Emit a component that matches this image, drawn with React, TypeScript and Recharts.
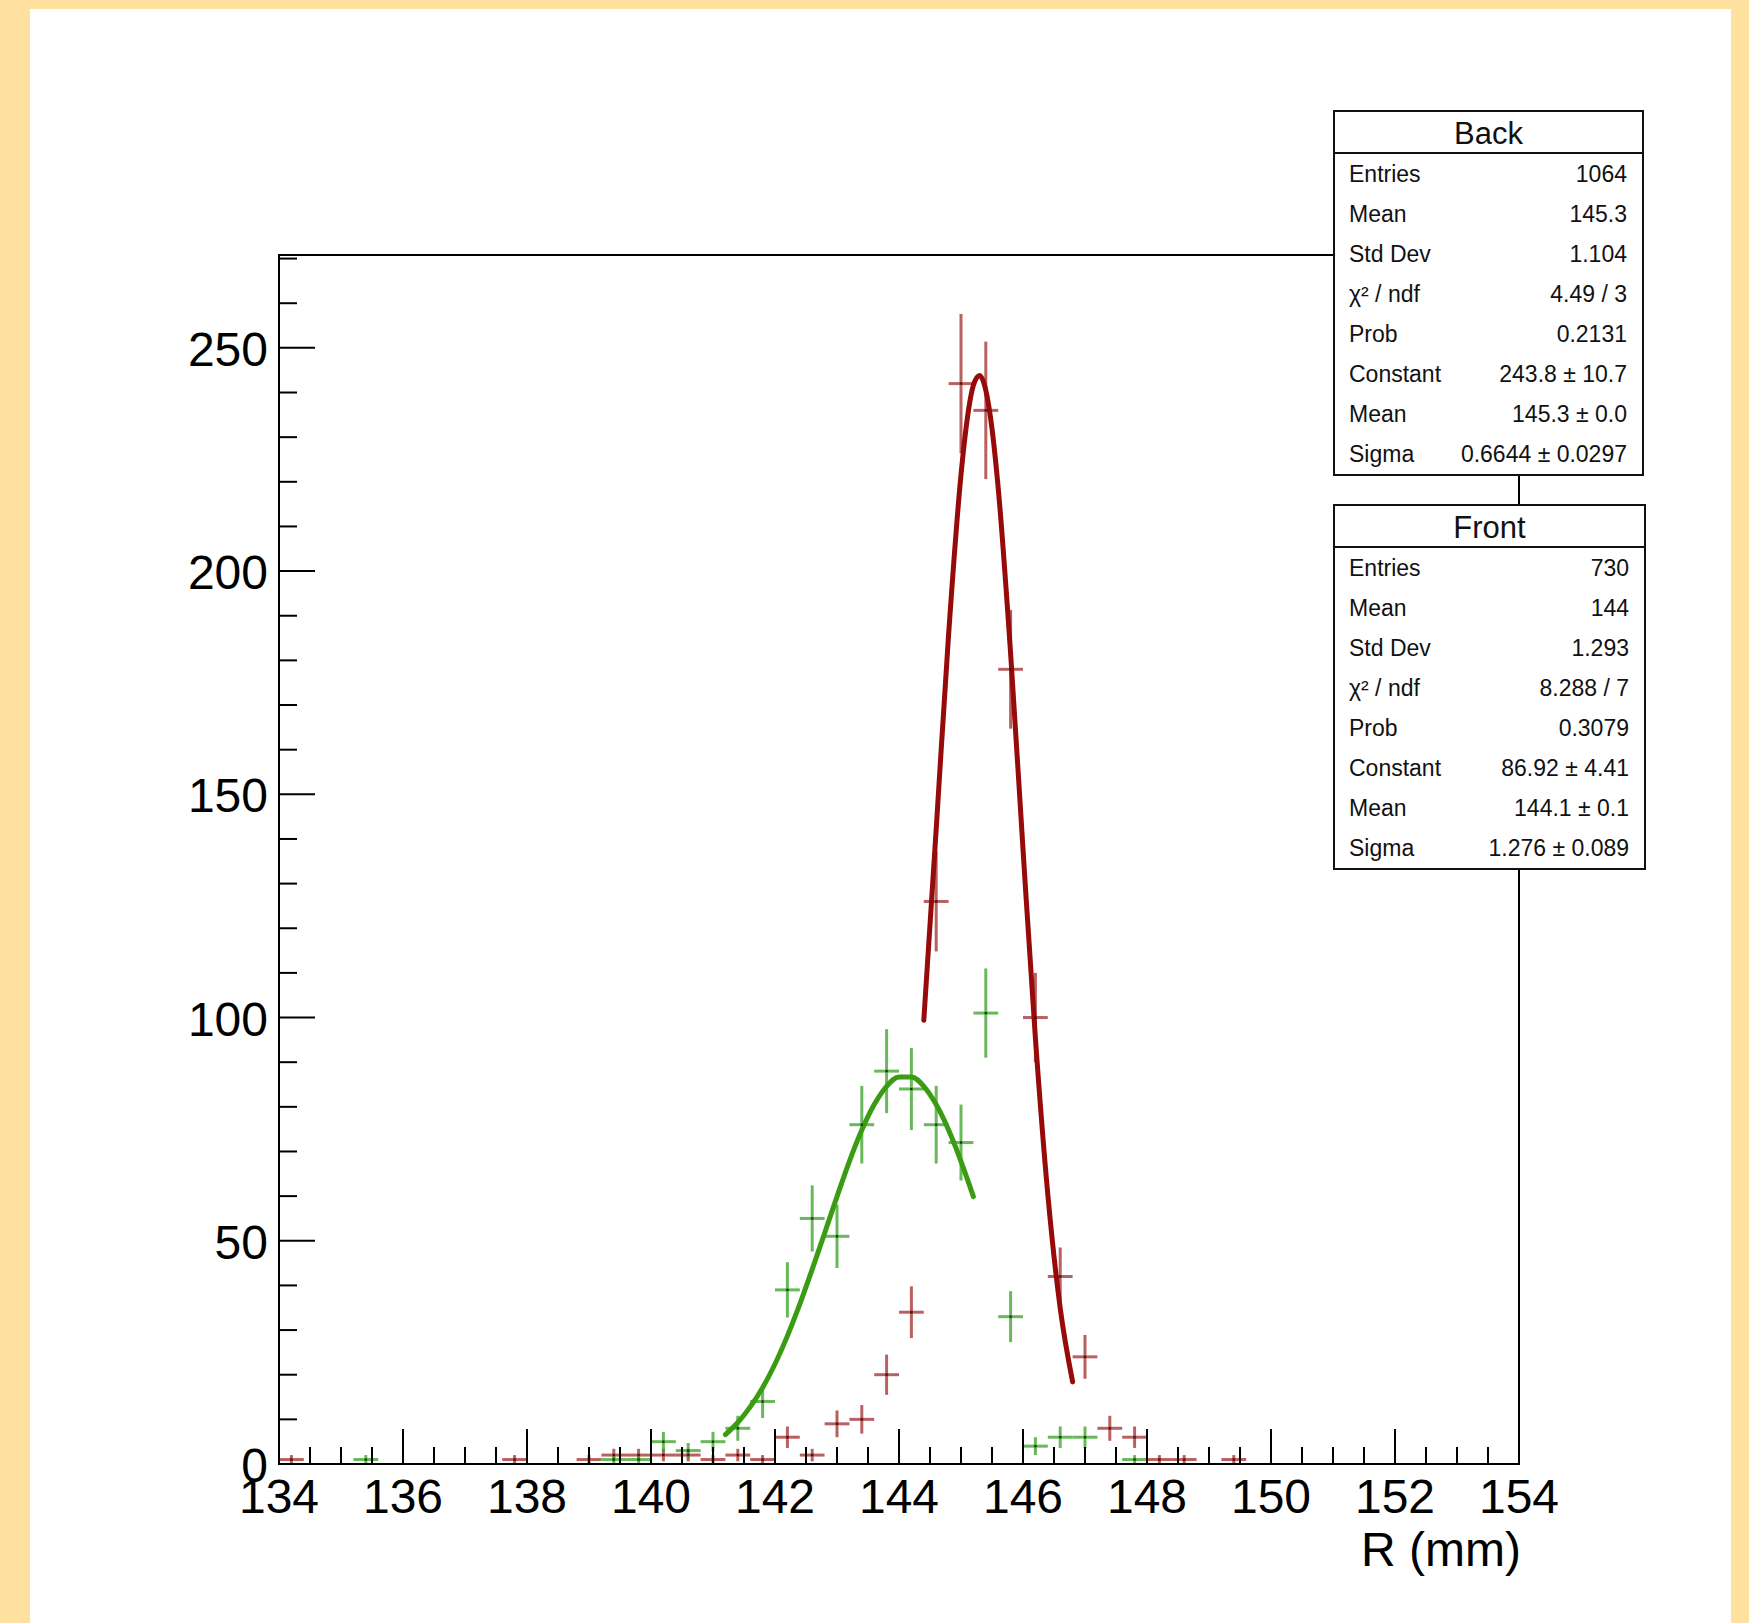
import React from 'react';
import { ComposedChart, Scatter, Line, XAxis, YAxis, ErrorBar, ReferenceArea } from 'recharts';

// ---- axis ticks ----
const xTicks = [134, 134.5, 135, 135.5, 136, 136.5, 137, 137.5, 138, 138.5, 139, 139.5, 140, 140.5, 141, 141.5, 142, 142.5, 143, 143.5, 144, 144.5, 145, 145.5, 146, 146.5, 147, 147.5, 148, 148.5, 149, 149.5, 150, 150.5, 151, 151.5, 152, 152.5, 153, 153.5, 154];
const xMajorTicks = [134, 136, 138, 140, 142, 144, 146, 148, 150, 152, 154];
const yTicks = [0, 10, 20, 30, 40, 50, 60, 70, 80, 90, 100, 110, 120, 130, 140, 150, 160, 170, 180, 190, 200, 210, 220, 230, 240, 250, 260, 270];
const yMajorTicks = [0, 50, 100, 150, 200, 250];
const xDomain = [134, 154];
const yDomain = [0, 270.8];
const xTitle = 'R (mm)';

// ---- histogram "Back" (non-empty bins) ----
const backBinCenters = [134.2, 137.8, 139.0, 139.4, 139.8, 140.2, 140.6, 141.0, 141.4, 141.8, 142.2, 142.6, 143.0, 143.4, 143.8, 144.2, 144.6, 145.0, 145.4, 145.8, 146.2, 146.6, 147.0, 147.4, 147.8, 148.2, 148.6, 149.4];
const backCounts = [1, 1, 1, 2, 2, 2, 2, 1, 2, 1, 6, 2, 9, 10, 20, 34, 126, 242, 236, 178, 100, 42, 24, 8, 6, 1, 1, 1];
const backErrors = [1, 1, 1, 1.4, 1.4, 1.4, 1.4, 1, 1.4, 1, 2.4, 1.4, 3, 3.2, 4.5, 5.8, 11.2, 15.6, 15.4, 13.3, 10, 6.5, 4.9, 2.8, 2.4, 1, 1, 1];

// ---- histogram "Front" (non-empty bins) ----
const frontBinCenters = [135.4, 139.4, 139.8, 140.2, 140.6, 141.0, 141.4, 141.8, 142.2, 142.6, 143.0, 143.4, 143.8, 144.2, 144.6, 145.0, 145.4, 145.8, 146.2, 146.6, 147.0, 147.8];
const frontCounts = [1, 1, 1, 5, 3, 5, 8, 14, 39, 55, 51, 76, 88, 84, 76, 72, 101, 33, 4, 6, 6, 1];
const frontErrors = [1, 1, 1, 2.2, 1.7, 2.2, 2.8, 3.7, 6.2, 7.4, 7.1, 8.7, 9.4, 9.2, 8.7, 8.5, 10, 5.7, 2, 2.4, 2.4, 1];

const binHalfWidth = 0.2;

// ---- fitted curves ----
const backFitX = [144.4, 144.6, 144.8, 145.0, 145.1, 145.2, 145.3, 145.4, 145.5, 145.6, 145.8, 146.0, 146.2, 146.4, 146.6, 146.8];
const backFitY = [99.4, 142.2, 185.8, 221.6, 234.0, 241.6, 243.8, 240.5, 231.9, 218.6, 181.6, 137.7, 95.4, 60.4, 34.9, 18.4];
const frontFitX = [141.2, 141.4, 141.6, 141.8, 142.0, 142.2, 142.4, 142.6, 142.8, 143.0, 143.2, 143.4, 143.6, 143.8, 144.0, 144.2, 144.4, 144.6, 144.8, 145.0, 145.2];
const frontFitY = [6.6, 9.3, 12.8, 17.1, 22.4, 28.7, 35.8, 43.6, 51.7, 59.9, 67.8, 74.8, 80.5, 84.6, 86.7, 86.7, 84.6, 80.5, 74.8, 67.8, 59.9];

// ---- stats boxes ----
const backStatsLabels = ['Entries', 'Mean', 'Std Dev', 'χ² / ndf', 'Prob', 'Constant', 'Mean', 'Sigma'];
const backStatsValues = ['1064', '145.3', '1.104', '4.49 / 3', '0.2131', '243.8 ± 10.7', '145.3 ± 0.0', '0.6644 ± 0.0297'];
const frontStatsLabels = ['Entries', 'Mean', 'Std Dev', 'χ² / ndf', 'Prob', 'Constant', 'Mean', 'Sigma'];
const frontStatsValues = ['730', '144', '1.293', '8.288 / 7', '0.3079', '86.92 ± 4.41', '144.1 ± 0.1', '1.276 ± 0.089'];

const backPoints = backBinCenters.map((x, i) => ({ x, y: backCounts[i], ex: binHalfWidth, ey: backErrors[i] }));
const frontPoints = frontBinCenters.map((x, i) => ({ x, y: frontCounts[i], ex: binHalfWidth, ey: frontErrors[i] }));
const backFit = backFitX.map((x, i) => ({ x, y: backFitY[i] }));
const frontFit = frontFitX.map((x, i) => ({ x, y: frontFitY[i] }));

const FONT = '"Liberation Sans", Arial, Helvetica, sans-serif';
const RED_LINE = '#960a0a';
const RED_ERR = 'rgba(160, 35, 35, 0.72)';
const GREEN_LINE = '#3a9c12';
const GREEN_ERR = 'rgba(55, 160, 35, 0.75)';

const XTick = (props: any) => {
  const { x, y, payload } = props;
  const major = xMajorTicks.includes(payload.value);
  return (
    <g>
      <line x1={x} x2={x} y1={y} y2={y - (major ? 35 : 17)} stroke="#000" strokeWidth={2} />
      {major && (
        <text x={x} y={y + 49} textAnchor="middle" fontSize={48} fontFamily={FONT} fill="#000">
          {payload.value}
        </text>
      )}
    </g>
  );
};

const YTick = (props: any) => {
  const { x, y, payload } = props;
  const major = yMajorTicks.includes(payload.value);
  return (
    <g>
      <line x1={x} x2={x + (major ? 36 : 18)} y1={y} y2={y} stroke="#000" strokeWidth={2} />
      {major && (
        <text x={x - 11} y={y + 18} textAnchor="end" fontSize={48} fontFamily={FONT} fill="#000">
          {payload.value}
        </text>
      )}
    </g>
  );
};

const Dot = (p: any) => <rect x={p.cx - 1} y={p.cy - 1} width={2} height={2} fill="#1a1a1a" />;

const StatsBox = ({ title, labels, values, left, top, width }: any) => (
  <div
    style={{
      position: 'absolute',
      left,
      top,
      width,
      boxSizing: 'border-box',
      border: '2px solid #111',
      background: '#fff',
      fontFamily: FONT,
      color: '#111',
    }}
  >
    <div
      style={{
        height: 40,
        borderBottom: '2px solid #111',
        textAlign: 'center',
        fontSize: 31,
        lineHeight: '44px',
      }}
    >
      {title}
    </div>
    {labels.map((l: string, i: number) => (
      <div
        key={i}
        style={{
          height: 40,
          display: 'flex',
          justifyContent: 'space-between',
          alignItems: 'center',
          padding: '0 15px 0 14px',
          fontSize: 23,
        }}
      >
        <span>{l}</span>
        <span>{values[i]}</span>
      </div>
    ))}
  </div>
);

export default function App() {
  return (
    <div style={{ position: 'absolute', left: 0, top: 0, width: 1749, height: 1623, background: '#ffe19f', overflow: 'hidden' }}>
      <div style={{ position: 'absolute', left: 30, top: 9, width: 1701, height: 1614, background: '#fff' }} />
      <div style={{ position: 'absolute', left: 0, top: 0 }}>
        <ComposedChart width={1749} height={1623} margin={{ top: 255, right: 230, bottom: 99, left: 219 }}>
          <XAxis
            dataKey="x"
            type="number"
            domain={xDomain}
            allowDataOverflow
            ticks={xTicks}
            interval={0}
            tickSize={0}
            tickMargin={0}
            tickLine={false}
            tick={<XTick />}
            height={60}
            axisLine={{ stroke: '#000', strokeWidth: 2 }}
          />
          <YAxis
            dataKey="y"
            type="number"
            domain={yDomain}
            allowDataOverflow
            ticks={yTicks}
            interval={0}
            tickSize={0}
            tickMargin={0}
            tickLine={false}
            tick={<YTick />}
            width={60}
            axisLine={{ stroke: '#000', strokeWidth: 2 }}
          />
          <ReferenceArea x1={134} x2={154} y1={0} y2={270.8} fill="none" stroke="#000" strokeWidth={2} />
          <Scatter data={backPoints} dataKey="y" shape={<Dot />} isAnimationActive={false}>
            <ErrorBar dataKey="ey" direction="y" width={0} stroke={RED_ERR} strokeWidth={3} isAnimationActive={false} />
            <ErrorBar dataKey="ex" direction="x" width={0} stroke={RED_ERR} strokeWidth={3} isAnimationActive={false} />
          </Scatter>
          <Scatter data={frontPoints} dataKey="y" shape={<Dot />} isAnimationActive={false}>
            <ErrorBar dataKey="ey" direction="y" width={0} stroke={GREEN_ERR} strokeWidth={3} isAnimationActive={false} />
            <ErrorBar dataKey="ex" direction="x" width={0} stroke={GREEN_ERR} strokeWidth={3} isAnimationActive={false} />
          </Scatter>
          <Line data={backFit} dataKey="y" type="monotone" stroke={RED_LINE} strokeWidth={5} dot={false} strokeLinecap="round" isAnimationActive={false} />
          <Line data={frontFit} dataKey="y" type="monotone" stroke={GREEN_LINE} strokeWidth={5} dot={false} strokeLinecap="round" isAnimationActive={false} />
        </ComposedChart>
      </div>
      <div
        style={{
          position: 'absolute',
          left: 1357,
          top: 1526,
          width: 164,
          textAlign: 'right',
          fontFamily: FONT,
          fontSize: 48,
          lineHeight: '48px',
          color: '#000',
          whiteSpace: 'nowrap',
        }}
      >
        {xTitle}
      </div>
      <StatsBox title="Back" labels={backStatsLabels} values={backStatsValues} left={1333} top={110} width={311} />
      <StatsBox title="Front" labels={frontStatsLabels} values={frontStatsValues} left={1333} top={504} width={313} />
    </div>
  );
}
